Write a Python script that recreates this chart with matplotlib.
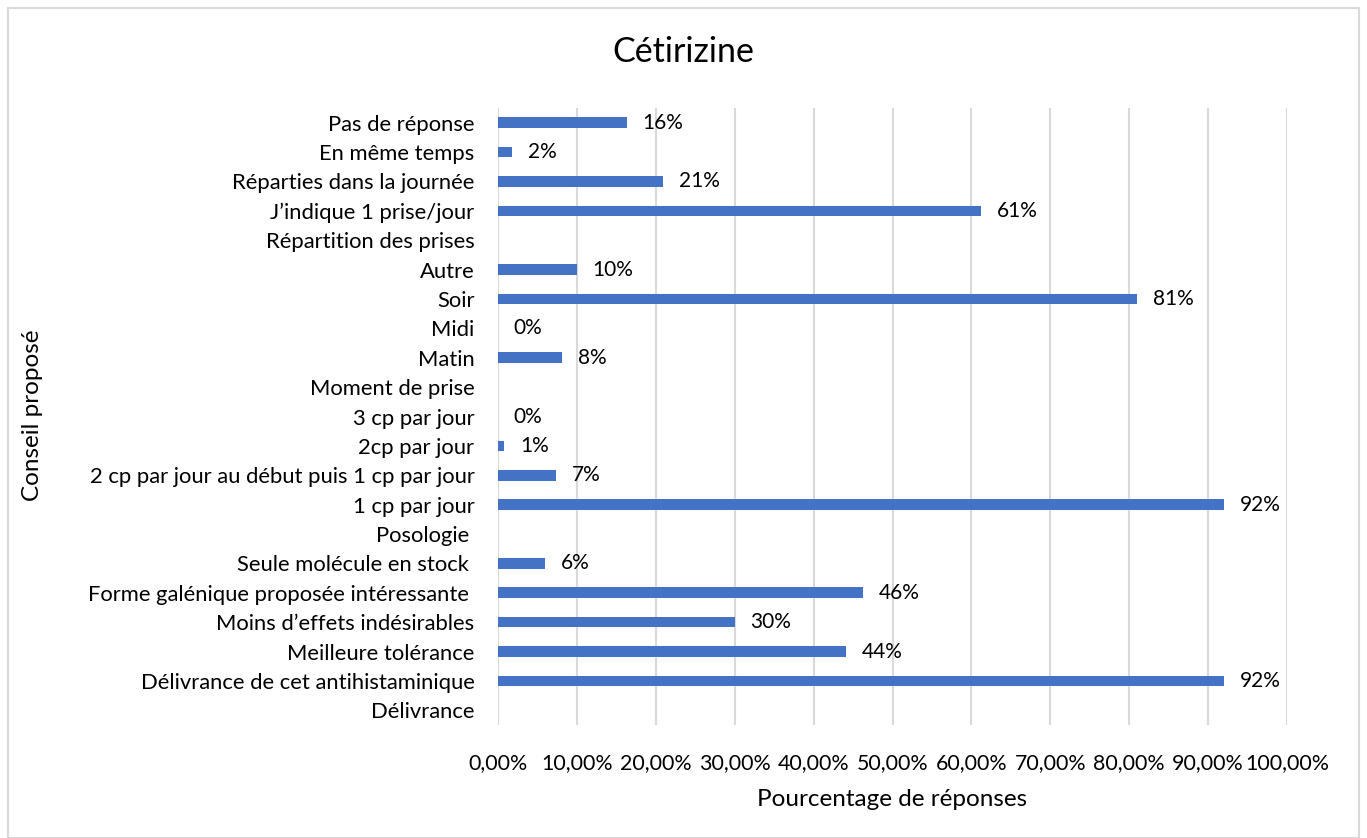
import matplotlib.pyplot as plt
from matplotlib.patches import Rectangle

plt.rcParams['font.family'] = ['Lato', 'DejaVu Sans']

# categories, top to bottom
categories = [
    "Pas de réponse",
    "En même temps",
    "Réparties dans la journée",
    "J\u2019indique 1 prise/jour",
    "Répartition des prises",
    "Autre",
    "Soir",
    "Midi",
    "Matin",
    "Moment de prise",
    "3 cp par jour",
    "2cp par jour",
    "2 cp par jour au début puis 1 cp par jour",
    "1 cp par jour",
    "Posologie ",
    "Seule molécule en stock ",
    "Forme galénique proposée intéressante ",
    "Moins d\u2019effets indésirables",
    "Meilleure tolérance",
    "Délivrance de cet antihistaminique",
    "Délivrance",
]
# None = section header row (no bar, no label)
values = [16.3, 1.8, 20.9, 61.2, None, 10.0, 81.0, 0.0, 8.1, None,
          0.0, 0.76, 7.35, 92.0, None, 6.0, 46.3, 30.0, 44.1, 92.0, None]
labels = ["16%", "2%", "21%", "61%", None, "10%", "81%", "0%", "8%", None,
          "0%", "1%", "7%", "92%", None, "6%", "46%", "30%", "44%", "92%", None]
xticks = list(range(0, 101, 10))

fig = plt.figure(figsize=(13.67, 8.38), dpi=100)
fig.patches.append(Rectangle((8 / 1367, 0.0), 1351 / 1367, 830 / 838,
                             transform=fig.transFigure, fill=False,
                             edgecolor='#d9d9d9', linewidth=1.5))

ax = fig.add_axes([498 / 1367, 1 - 725 / 838, 789 / 1367, 617 / 838])
n = len(categories)
ypos = list(range(n))[::-1]

for y, v, lab in zip(ypos, values, labels):
    if v is None:
        continue
    ax.barh(y, v, height=0.36, color='#4472C4', zorder=3)
    ax.text(v + 2.0, y, lab, va='center', ha='left', fontsize=15, color='#000000')

ax.set_yticks(ypos)
ax.set_yticklabels(categories, fontsize=15.8)
ax.set_ylim(-0.5, n - 0.5)
ax.set_xlim(0, 100)
ax.set_xticks(xticks)
ax.set_xticklabels([f"{t},00%" for t in xticks], fontsize=15.4)
ax.tick_params(axis='both', length=0)
ax.tick_params(axis='x', pad=20)
ax.tick_params(axis='y', pad=17)
ax.grid(axis='x', color='#d9d9d9', linewidth=1.5, zorder=0)
for s in ax.spines.values():
    s.set_visible(False)

ax.set_xlabel("Pourcentage de réponses", fontsize=17.5, labelpad=12)
fig.text(33 / 1367, 1 - 415 / 838, "Conseil proposé", rotation=90,
         ha='center', va='center', fontsize=17.5)
fig.text(683 / 1367, 1 - 52 / 838, "Cétirizine", ha='center', va='center', fontsize=24.5)

fig.savefig("out.png", dpi=100)
